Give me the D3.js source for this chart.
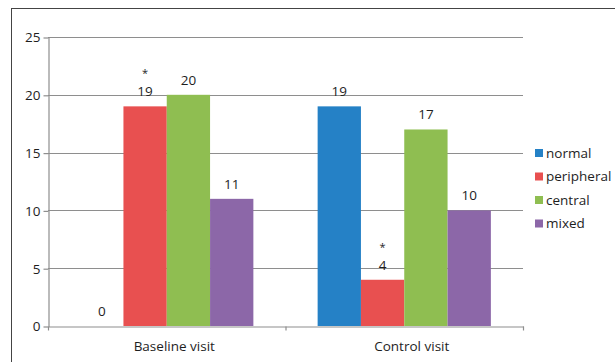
<!DOCTYPE html>
<html>
<head>
<meta charset="utf-8">
<script src="https://cdn.jsdelivr.net/npm/d3@7"></script>
<style>
  html, body { margin: 0; padding: 0; background: #fff; }
  svg { display: block; font-family: "Open Sans", "Liberation Sans", sans-serif; }
</style>
</head>
<body>
<svg id="chart" width="615" height="362"></svg>
<script>
// Visit groups and pattern types
const categories = ["Baseline visit", "Control visit"];
const seriesNames = ["normal", "peripheral", "central", "mixed"];
const seriesColors = ["#2581c6", "#e85050", "#8fbe51", "#8c67a8"];
// Counts per series, one entry per visit
const normal = [0, 19];
const peripheral = [19, 4];
const central = [20, 17];
const mixed = [11, 10];
// Significance marks shown above the value labels
const peripheralMarks = ["*", "*"];
const yTicks = [0, 5, 10, 15, 20, 25];

const seriesValues = [normal, peripheral, central, mixed];
const seriesMarks = [null, peripheralMarks, null, null];

const svg = d3.select("#chart");
const plot = { left: 48, right: 523, top: 37, bottom: 326 };

// outer frame (runs off the right and bottom edges)
svg.append("rect")
  .attr("x", 11.5).attr("y", 8.5)
  .attr("width", 700).attr("height", 400)
  .attr("fill", "none").attr("stroke", "#444").attr("stroke-width", 1);

const x0 = d3.scaleBand().domain(categories).range([plot.left, plot.right]).padding(0);
const x1 = d3.scaleBand().domain(seriesNames).range([0, x0.bandwidth()])
  .paddingInner(0).paddingOuter(0.742);
const y = d3.scaleLinear().domain([0, 25]).range([plot.bottom, plot.top]);

const gridColor = "#8e8e8e";
const textColor = "#1e1e1e";

// horizontal gridlines
svg.append("g").selectAll("line").data(yTicks.filter(d => d > 0)).join("line")
  .attr("x1", plot.left).attr("x2", plot.right)
  .attr("y1", d => Math.round(y(d)) + 0.5).attr("y2", d => Math.round(y(d)) + 0.5)
  .attr("stroke", gridColor).attr("stroke-width", 1.2);

// y axis
const yAxis = svg.append("g")
  .attr("transform", `translate(${plot.left + 0.5},0.5)`)
  .call(d3.axisLeft(y).tickValues(yTicks).tickSize(5).tickPadding(3).tickSizeOuter(0));
yAxis.select(".domain").attr("stroke", gridColor).attr("stroke-width", 1.2);
yAxis.selectAll(".tick line").attr("stroke", gridColor).attr("stroke-width", 1.2);
yAxis.selectAll(".tick text")
  .attr("font-size", "13.5px").attr("fill", textColor)
  .attr("font-family", "\"Open Sans\", sans-serif");

// bars
const groups = svg.append("g").selectAll("g").data(categories).join("g")
  .attr("transform", d => `translate(${x0(d)},0)`);

groups.each(function(cat, ci) {
  const g = d3.select(this);
  seriesNames.forEach((s, si) => {
    const v = seriesValues[si][ci];
    const bx = x1(s);
    const bw = x1.bandwidth();
    if (v > 0) {
      g.append("rect")
        .attr("x", bx).attr("y", y(v))
        .attr("width", bw).attr("height", y(0) - y(v))
        .attr("fill", seriesColors[si]);
    }
    g.append("text")
      .attr("x", bx + bw / 2).attr("y", y(v) - 10)
      .attr("text-anchor", "middle")
      .attr("font-size", "13.5px").attr("fill", textColor)
      .text(v);
    const marks = seriesMarks[si];
    if (marks && marks[ci]) {
      g.append("text")
        .attr("x", bx + bw / 2).attr("y", y(v) - 29)
        .attr("text-anchor", "middle")
        .attr("font-size", "11px").attr("fill", textColor)
        .text(marks[ci]);
    }
  });
});

// x axis (drawn over the bar bottoms)
const xAxis = svg.append("g")
  .attr("transform", `translate(0.5,${plot.bottom + 0.5})`)
  .call(d3.axisBottom(x0).tickSize(0).tickPadding(15).tickSizeOuter(0));
xAxis.select(".domain").attr("stroke", gridColor).attr("stroke-width", 1.2);
xAxis.selectAll(".tick text")
  .attr("font-size", "13.5px").attr("fill", textColor)
  .attr("dx", 7)
  .attr("font-family", "\"Open Sans\", sans-serif");
// category boundary ticks
const bounds = [plot.left, ...categories.slice(1).map(c => x0(c)), plot.right];
xAxis.append("g").selectAll("line").data(bounds).join("line")
  .attr("x1", d => d).attr("x2", d => d)
  .attr("y1", 0).attr("y2", 4)
  .attr("stroke", gridColor).attr("stroke-width", 1.2);

// legend
const legend = svg.append("g").attr("transform", "translate(535,153)");
seriesNames.forEach((s, i) => {
  const row = legend.append("g").attr("transform", `translate(0,${i * 23.5})`);
  row.append("rect").attr("x", 0).attr("y", -4).attr("width", 8).attr("height", 8)
    .attr("fill", seriesColors[i]);
  row.append("text").attr("x", 11).attr("y", 4.5)
    .attr("font-size", "13.5px").attr("fill", textColor).text(s);
});
</script>
</body>
</html>
